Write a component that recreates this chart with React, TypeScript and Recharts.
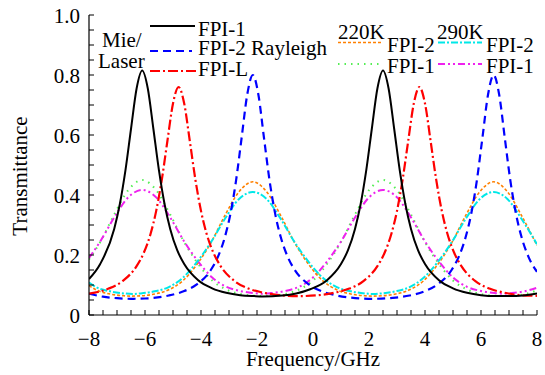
import { LineChart, Line, XAxis, YAxis } from "recharts";

// Mie / laser transmittance
const mieFpi1Freq = [-8, -7.6, -7.1, -6.9, -6.7, -6.5, -6.3, -6.1, -5.9, -5.7, -5.5, -5.3, -5.1, -4.85, -4.6, -4.1, -3.6, -3.1, -2.6, -2.1, -1.8, -1.1, -0.6, -0.1, 0.5, 1.0, 1.25, 1.5, 1.7, 1.9, 2.1, 2.3, 2.5, 2.7, 2.9, 3.1, 3.3, 3.5, 3.75, 4.0, 4.5, 5.0, 5.5, 6.0, 6.5, 7.0, 7.5, 8.0];
const mieFpi1 = [0.12, 0.17, 0.287, 0.369, 0.481, 0.62, 0.755, 0.815, 0.755, 0.62, 0.481, 0.369, 0.287, 0.216, 0.17, 0.116, 0.089, 0.074, 0.066, 0.063, 0.062, 0.065, 0.072, 0.086, 0.116, 0.17, 0.216, 0.287, 0.369, 0.481, 0.62, 0.755, 0.815, 0.755, 0.62, 0.481, 0.369, 0.287, 0.216, 0.17, 0.116, 0.089, 0.074, 0.066, 0.063, 0.063, 0.065, 0.072];

const mieFpi2Freq = [-8, -7.5, -7.0, -6.5, -6.0, -5.15, -4.65, -4.15, -3.65, -3.4, -3.15, -2.95, -2.75, -2.55, -2.35, -2.15, -1.95, -1.75, -1.55, -1.35, -1.15, -0.9, -0.65, -0.15, 0.35, 0.85, 1.35, 2.15, 2.95, 3.45, 3.95, 4.45, 4.95, 5.2, 5.45, 5.65, 5.85, 6.05, 6.25, 6.45, 6.65, 6.85, 7.05, 7.25, 7.45, 7.7, 8.0];
const mieFpi2 = [0.071, 0.061, 0.056, 0.054, 0.055, 0.065, 0.078, 0.102, 0.15, 0.193, 0.259, 0.337, 0.447, 0.59, 0.734, 0.8, 0.734, 0.59, 0.447, 0.337, 0.259, 0.193, 0.15, 0.102, 0.078, 0.065, 0.058, 0.054, 0.058, 0.065, 0.078, 0.102, 0.15, 0.193, 0.259, 0.337, 0.447, 0.59, 0.734, 0.8, 0.734, 0.59, 0.447, 0.337, 0.259, 0.193, 0.144];

const fpiLFreq = [-8, -7.3, -6.8, -6.3, -6.05, -5.8, -5.6, -5.4, -5.2, -5.0, -4.8, -4.6, -4.4, -4.2, -4.0, -3.8, -3.55, -3.3, -2.8, -2.3, -1.8, -1.3, -0.5, 0.3, 0.8, 1.3, 1.8, 2.3, 2.55, 2.8, 3.0, 3.2, 3.4, 3.6, 3.8, 4.0, 4.2, 4.4, 4.6, 4.8, 5.05, 5.3, 5.8, 6.3, 6.8, 7.3, 8.0];
const fpiL = [0.071, 0.088, 0.113, 0.163, 0.206, 0.271, 0.347, 0.451, 0.58, 0.705, 0.76, 0.705, 0.58, 0.451, 0.347, 0.271, 0.206, 0.163, 0.113, 0.088, 0.075, 0.067, 0.063, 0.067, 0.075, 0.088, 0.113, 0.163, 0.206, 0.271, 0.347, 0.451, 0.58, 0.705, 0.76, 0.705, 0.58, 0.451, 0.347, 0.271, 0.206, 0.163, 0.113, 0.088, 0.075, 0.067, 0.064];

// Rayleigh transmittance, 220K and 290K
const rayFpi1Freq = [-8, -7.6, -7.1, -6.6, -6.1, -5.6, -5.1, -4.6, -4.1, -3.6, -3.1, -2.6, -2.1, -1.8, -1.5, -1.0, -0.5, 0, 0.5, 1.0, 1.5, 2.0, 2.5, 3.0, 3.5, 4.0, 4.5, 5.0, 5.5, 6.0, 6.5, 6.8, 7.1, 7.6, 8.0];
const ray220Fpi1 = [0.185, 0.243, 0.335, 0.416, 0.45, 0.416, 0.335, 0.243, 0.17, 0.115, 0.085, 0.07, 0.064, 0.063, 0.064, 0.07, 0.085, 0.115, 0.17, 0.243, 0.335, 0.416, 0.45, 0.416, 0.335, 0.243, 0.17, 0.115, 0.085, 0.07, 0.064, 0.063, 0.064, 0.07, 0.082];
const ray290Fpi1 = [0.19, 0.245, 0.325, 0.392, 0.417, 0.392, 0.325, 0.245, 0.178, 0.125, 0.094, 0.08, 0.073, 0.071, 0.073, 0.08, 0.094, 0.125, 0.178, 0.245, 0.325, 0.392, 0.417, 0.392, 0.325, 0.245, 0.178, 0.125, 0.094, 0.08, 0.073, 0.071, 0.073, 0.08, 0.091];

const rayFpi2Freq = [-8, -7.75, -7.25, -6.75, -6.45, -6.15, -5.65, -5.15, -4.65, -4.15, -3.65, -3.15, -2.65, -2.15, -1.65, -1.15, -0.65, -0.15, 0.35, 0.85, 1.35, 1.85, 2.15, 2.45, 2.95, 3.45, 3.95, 4.45, 4.95, 5.45, 5.95, 6.45, 6.95, 7.45, 8.0];
const ray220Fpi2 = [0.098, 0.084, 0.07, 0.064, 0.063, 0.064, 0.07, 0.084, 0.114, 0.168, 0.24, 0.331, 0.41, 0.444, 0.41, 0.331, 0.24, 0.168, 0.114, 0.084, 0.07, 0.064, 0.063, 0.064, 0.07, 0.084, 0.114, 0.168, 0.24, 0.331, 0.41, 0.444, 0.41, 0.331, 0.232];
const ray290Fpi2 = [0.108, 0.093, 0.079, 0.072, 0.07, 0.072, 0.079, 0.093, 0.124, 0.176, 0.242, 0.32, 0.386, 0.41, 0.386, 0.32, 0.242, 0.176, 0.124, 0.093, 0.079, 0.072, 0.07, 0.072, 0.079, 0.093, 0.124, 0.176, 0.242, 0.32, 0.386, 0.41, 0.386, 0.32, 0.236];

const xTicks = [-8, -7.5, -7, -6.5, -6, -5.5, -5, -4.5, -4, -3.5, -3, -2.5, -2, -1.5, -1, -0.5, 0, 0.5, 1, 1.5, 2, 2.5, 3, 3.5, 4, 4.5, 5, 5.5, 6, 6.5, 7, 7.5, 8];
const xLabels = [-8, -6, -4, -2, 0, 2, 4, 6, 8];
const yTicks = [0, 0.05, 0.1, 0.15, 0.2, 0.25, 0.3, 0.35, 0.4, 0.45, 0.5, 0.55, 0.6, 0.65, 0.7, 0.75, 0.8, 0.85, 0.9, 0.95, 1];
const yLabels = [0, 0.2, 0.4, 0.6, 0.8, 1];

const FONT = "'Liberation Serif', 'Times New Roman', serif";

const zip = (f: number[], t: number[]) => f.map((x, i) => ({ f: x, t: t[i] }));

const series = [
  { name: "ray220Fpi1", data: zip(rayFpi1Freq, ray220Fpi1), color: "#55ee55", width: 2, dash: "1.5 5" },
  { name: "ray290Fpi1", data: zip(rayFpi1Freq, ray290Fpi1), color: "#ee22ee", width: 2, dash: "7 3 2 3 2 3" },
  { name: "ray220Fpi2", data: zip(rayFpi2Freq, ray220Fpi2), color: "#ff8000", width: 1.6, dash: "3 2" },
  { name: "ray290Fpi2", data: zip(rayFpi2Freq, ray290Fpi2), color: "#00e8e8", width: 2, dash: "7 2 2 2" },
  { name: "mieFpi2", data: zip(mieFpi2Freq, mieFpi2), color: "#0000ff", width: 2.2, dash: "8 5" },
  { name: "fpiL", data: zip(fpiLFreq, fpiL), color: "#ff0000", width: 2.2, dash: "10 3 2 3" },
  { name: "mieFpi1", data: zip(mieFpi1Freq, mieFpi1), color: "#000000", width: 2, dash: undefined },
];

const fmtX = (v: number) => (v < 0 ? "\u2212" + Math.abs(v) : String(v));
const fmtY = (v: number) => (v === 0 ? "0" : v.toFixed(1));

function BottomTick(props: any) {
  const { x, y, payload } = props;
  const v = payload.value;
  return (
    <g>
      <line x1={x} y1={y} x2={x} y2={y - 5} stroke="#000" strokeWidth={1} />
      {xLabels.includes(v) && (
        <text x={x} y={y + 31} textAnchor="middle" fontSize={21} fontFamily={FONT} fill="#000">
          {fmtX(v)}
        </text>
      )}
    </g>
  );
}

function TopTick(props: any) {
  const { x, y } = props;
  return <line x1={x} y1={y} x2={x} y2={y + 5} stroke="#000" strokeWidth={1} />;
}

function LeftTick(props: any) {
  const { x, y, payload } = props;
  const v = payload.value;
  return (
    <g>
      <line x1={x} y1={y} x2={x + 5} y2={y} stroke="#000" strokeWidth={1} />
      {yLabels.includes(v) && (
        <text x={x - 9} y={y + 8} textAnchor="end" fontSize={21} fontFamily={FONT} fill="#000">
          {fmtY(v)}
        </text>
      )}
    </g>
  );
}

function RightTick(props: any) {
  const { x, y } = props;
  return <line x1={x} y1={y} x2={x - 5} y2={y} stroke="#000" strokeWidth={1} />;
}

function LegendOverlay() {
  const t = { fontSize: 21, fontFamily: FONT, fill: "#000" };
  return (
    <svg width={545} height={375} style={{ position: "absolute", left: 0, top: 0, pointerEvents: "none" }}>
      <text x={102} y={47} {...t}>Mie/</text>
      <text x={98} y={68} {...t}>Laser</text>
      <line x1={150} y1={26} x2={195} y2={26} stroke="#000" strokeWidth={2} />
      <text x={198} y={36} {...t}>FPI-1</text>
      <line x1={150} y1={51} x2={192} y2={51} stroke="#0000ff" strokeWidth={2.2} strokeDasharray="8 5" />
      <text x={198} y={55} {...t}>FPI-2 Rayleigh</text>
      <line x1={150} y1={71} x2={197} y2={71} stroke="#ff0000" strokeWidth={2.2} strokeDasharray="10 3 2 3" />
      <text x={198} y={76} {...t}>FPI-L</text>

      <text x={338} y={39} {...t}>220K</text>
      <line x1={338} y1={42.5} x2={383} y2={42.5} stroke="#ff8000" strokeWidth={1.6} strokeDasharray="3 2" />
      <text x={387} y={51.5} {...t}>FPI-2</text>
      <line x1={338} y1={64} x2={380} y2={64} stroke="#55ee55" strokeWidth={2} strokeDasharray="1.5 5" />
      <text x={387} y={72.5} {...t}>FPI-1</text>

      <text x={437} y={39} {...t}>290K</text>
      <line x1={438} y1={42.5} x2={482} y2={42.5} stroke="#00e8e8" strokeWidth={2} strokeDasharray="7 2 2 2" />
      <text x={486} y={51.5} {...t}>FPI-2</text>
      <line x1={438} y1={64} x2={482} y2={64} stroke="#ee22ee" strokeWidth={2} strokeDasharray="7 3 2 3 2 3" />
      <text x={486} y={72.5} {...t}>FPI-1</text>

      <text x={313} y={366} textAnchor="middle" {...t}>Frequency/GHz</text>
      <text x={27} y={176} textAnchor="middle" transform="rotate(-90 27 176)" {...t}>Transmittance</text>
    </svg>
  );
}

export default function App() {
  return (
    <div style={{ position: "absolute", left: 0, top: 0, width: 545, height: 375, background: "#fff" }}>
      <LineChart width={545} height={375} margin={{ top: 15, right: 8, bottom: 19, left: 0 }}>
        <XAxis
          dataKey="f"
          type="number"
          domain={[-8, 8]}
          ticks={xTicks}
          interval={0}
          allowDataOverflow
          height={41}
          tickSize={0}
          tickMargin={0}
          tickLine={false}
          axisLine={{ stroke: "#000", strokeWidth: 1.2 }}
          tick={<BottomTick />}
        />
        <XAxis
          xAxisId="top"
          orientation="top"
          dataKey="f"
          type="number"
          domain={[-8, 8]}
          ticks={xTicks}
          interval={0}
          allowDataOverflow
          height={0}
          tickSize={0}
          tickMargin={0}
          tickLine={false}
          axisLine={{ stroke: "#000", strokeWidth: 1.2 }}
          tick={<TopTick />}
        />
        <YAxis
          type="number"
          domain={[0, 1]}
          ticks={yTicks}
          interval={0}
          allowDataOverflow
          width={89}
          tickSize={0}
          tickMargin={0}
          tickLine={false}
          axisLine={{ stroke: "#000", strokeWidth: 1.2 }}
          tick={<LeftTick />}
        />
        <YAxis
          yAxisId="right"
          orientation="right"
          type="number"
          domain={[0, 1]}
          ticks={yTicks}
          interval={0}
          allowDataOverflow
          width={0}
          tickSize={0}
          tickMargin={0}
          tickLine={false}
          axisLine={{ stroke: "#000", strokeWidth: 1.2 }}
          tick={<RightTick />}
        />
        {series.map((s) => (
          <Line
            key={s.name}
            data={s.data}
            dataKey="t"
            type="monotone"
            stroke={s.color}
            strokeWidth={s.width}
            strokeDasharray={s.dash}
            dot={false}
            activeDot={false}
            isAnimationActive={false}
          />
        ))}
      </LineChart>
      <LegendOverlay />
    </div>
  );
}
